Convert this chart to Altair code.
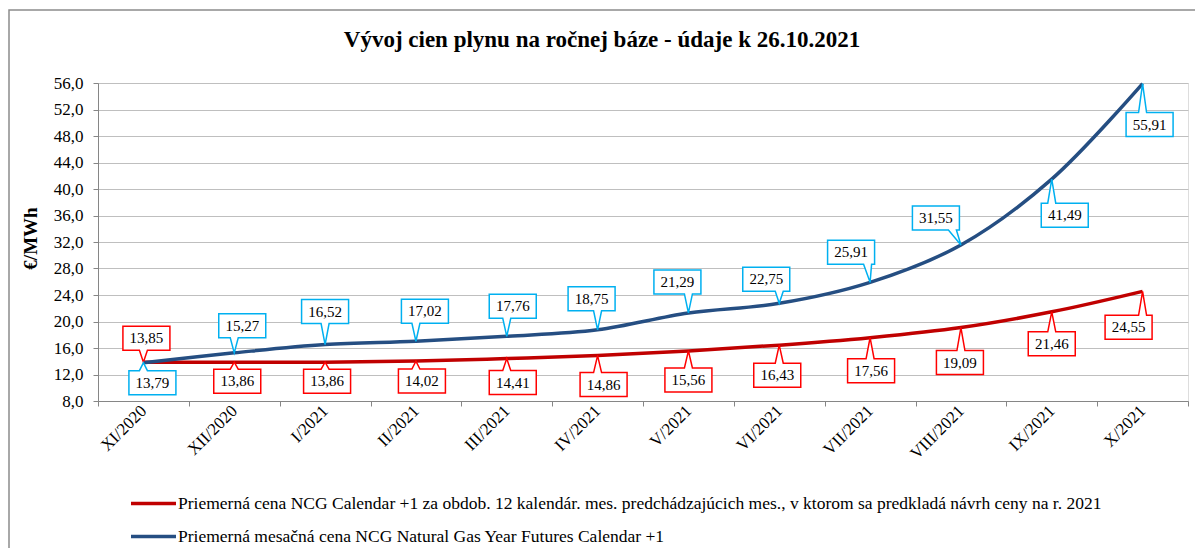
import altair as alt
import pandas as pd

# ---------------- data ----------------
categories = ["XI/2020", "XII/2020", "I/2021", "II/2021", "III/2021", "IV/2021",
              "V/2021", "VI/2021", "VII/2021", "VIII/2021", "IX/2021", "X/2021"]
red_values = [13.85, 13.86, 13.86, 14.02, 14.41, 14.86, 15.56, 16.43, 17.56, 19.09, 21.46, 24.55]
blue_values = [13.79, 15.27, 16.52, 17.02, 17.76, 18.75, 21.29, 22.75, 25.91, 31.55, 41.49, 55.91]
red_name = ("Priemerná cena NCG Calendar +1 za obdob. 12 kalendár. mes. predchádzajúcich mes., "
            "v ktorom sa predkladá návrh ceny na r. 2021")
blue_name = "Priemerná mesačná cena NCG Natural Gas Year Futures Calendar +1"
title_text = "Vývoj cien plynu na ročnej báze - údaje k 26.10.2021"
y_title = "€/MWh"
y_ticks = [8, 12, 16, 20, 24, 28, 32, 36, 40, 44, 48, 52, 56]

# callout placement: pixel offset of each label box centre from its point
red_dx = [3, 3, 2, 6, 6, 6, 0, -2, 1, -1, 0, -14]
red_dy = [-24, 19, 19, 20, 24, 29, 29, 30, 33, 35, 32, 36]
blue_dx = [9, 8, 0, 9, 6, -6, -11, -13, -19, -25, 13, 7]
blue_dy = [20, -27, -33, -30, -30, -31, -31, -24, -30, -27, 36, 41]

# ---------------- styling ----------------
FONT = "Liberation Serif"
RED = "#C00000"
BLUE = "#254E82"
RED_BOX = "#FF0000"
BLUE_BOX = "#00B0F0"
BOX_W, BOX_H = 47, 24
W, H = 1090, 318
Y_MIN, Y_MAX = 8, 56
PX_PER_UNIT = H / (Y_MAX - Y_MIN)
HALF_BAND = W / len(categories) / 2


def callout_path(dx, dy):
    L, R = dx - BOX_W / 2, dx + BOX_W / 2
    T, B = dy - BOX_H / 2, dy + BOX_H / 2
    c = min(max(0, L + 7), R - 7)
    b1, b2 = c - 4, c + 4
    if dy < 0:
        pts = [(L, T), (R, T), (R, B), (b2, B), (0, 0), (b1, B), (L, B)]
    else:
        pts = [(L, T), (b1, T), (0, 0), (b2, T), (R, T), (R, B), (L, B)]
    return "M" + " L".join(f"{x:.1f},{y:.1f}" for x, y in pts) + " Z"


rows = []
for name, vals, dxs, dys in [(red_name, red_values, red_dx, red_dy),
                             (blue_name, blue_values, blue_dx, blue_dy)]:
    for c, v, dx, dy in zip(categories, vals, dxs, dys):
        rows.append({"cat": c, "value": v, "series": name,
                     "label": f"{v:.2f}".replace(".", ","),
                     "dx": dx, "dy": dy, "path": callout_path(dx, dy)})
df = pd.DataFrame(rows)

x_axis = alt.Axis(labelAngle=-45, labelAlign="right", labelBaseline="middle",
                  labelFont=FONT, labelFontSize=17, labelColor="black",
                  labelPadding=2, tickBand="extent", tickSize=5,
                  labelOverlap=False,
                  tickColor="#868686", domainColor="#868686", grid=False)
y_axis = alt.Axis(values=y_ticks, labelOverlap=False,
                  labelExpr="replace(format(datum.value, '.1f'), '.', ',')",
                  labelFont=FONT, labelFontSize=17, labelColor="black",
                  labelPadding=10, tickSize=5, tickColor="#868686",
                  domainColor="#868686", gridColor="#BFBFBF",
                  titleFont=FONT, titleFontSize=19, titleFontWeight="bold",
                  titleColor="black", titleX=-68, titleY=155,
                  titleAlign="center", titleBaseline="middle", titleAngle=-90)
x_scale = alt.Scale(paddingInner=0, paddingOuter=0)
y_scale = alt.Scale(domain=[Y_MIN, Y_MAX], nice=False, zero=False)

x_enc = alt.X("cat:N", sort=categories, title=None, scale=x_scale, axis=x_axis)


def y_of(field):
    return alt.Y(field, title=y_title, scale=y_scale, axis=y_axis)


base = alt.Chart(df)

border = alt.Chart(pd.DataFrame({"a": [0]})).mark_rect(
    fill="transparent", stroke="#8C8C8C", strokeWidth=1.5
).encode(x=alt.value(-89), x2=alt.value(W + 8), y=alt.value(-73), y2=alt.value(H + 200))

title = alt.Chart(pd.DataFrame({"t": [title_text]})).mark_text(
    font=FONT, fontSize=23, fontWeight="bold", color="black", align="center", baseline="middle"
).encode(x=alt.value(504), y=alt.value(-43), text="t:N")

lines = base.mark_line(strokeWidth=3.5, interpolate="catmull-rom").encode(
    x=x_enc, y=y_of("value:Q"),
    color=alt.Color("series:N",
                    scale=alt.Scale(domain=[red_name, blue_name], range=[RED, BLUE]),
                    legend=alt.Legend(title=None, orient="none", legendX=31, legendY=396,
                                      direction="vertical", symbolType="stroke",
                                      symbolSize=2025, symbolStrokeWidth=3.5,
                                      labelFont=FONT, labelFontSize=17.5, labelColor="black",
                                      labelLimit=1100, labelOffset=0, rowPadding=0,
                                      padding=0)),
    detail="series:N",
)

boxes = base.mark_point(size=4, filled=True, fill="white", strokeWidth=1.5, opacity=1).encode(
    x=x_enc,
    y=y_of("value:Q"),
    shape=alt.Shape("path:N", scale=None, legend=None),
    stroke=alt.Stroke("series:N",
                      scale=alt.Scale(domain=[red_name, blue_name], range=[RED_BOX, BLUE_BOX]),
                      legend=None),
)

labels = base.transform_calculate(
    ly=f"datum.value - datum.dy / {PX_PER_UNIT}",
    lx=f"datum.dx + {HALF_BAND}",
).mark_text(font=FONT, fontSize=15, color="black", align="center", baseline="middle").encode(
    x=x_enc,
    y=y_of("ly:Q"),
    xOffset=alt.XOffset("lx:Q", scale=None),
    text="label:N",
)

chart = alt.layer(border, title, lines, boxes, labels).properties(
    width=W, height=H,
    autosize=alt.AutoSizeParams(type="none"),
    padding={"left": 90, "top": 75, "right": 7, "bottom": 147},
).configure_view(stroke=None).configure(background="white").configure_axis(
    titleFont=FONT, labelFont=FONT
)

chart.save("out.html", embed_options={"renderer": "svg", "actions": False})
